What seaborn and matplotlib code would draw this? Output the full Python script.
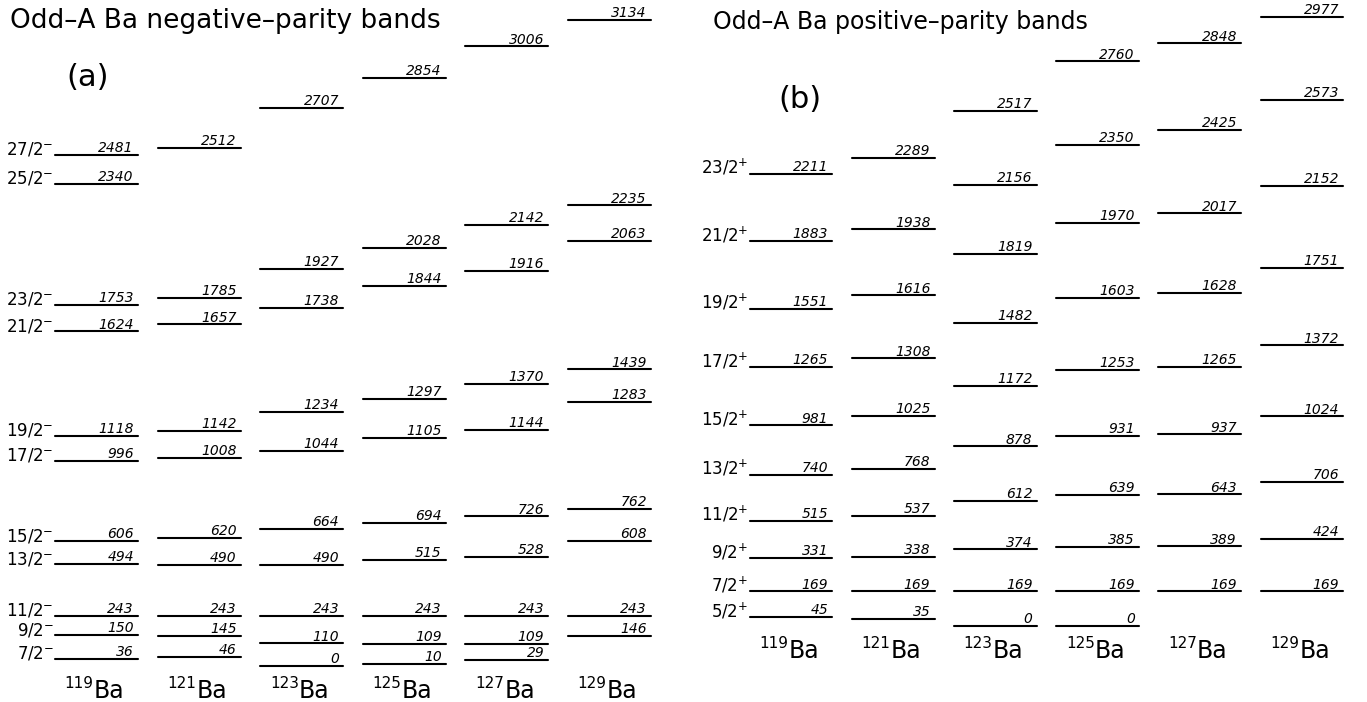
import matplotlib
matplotlib.use("Agg")
import matplotlib.pyplot as plt
import seaborn as sns
import pandas as pd

sns.set_theme(style="white")
plt.rcParams["font.family"] = ["DejaVu Sans"]
plt.rcParams["mathtext.fontset"] = "dejavusans"
plt.rcParams["text.color"] = "black"

# Mass numbers of the odd-A barium isotopes (one column each)
isotopes = ["119", "121", "123", "125", "127", "129"]

# Negative-parity band: level energies (keV) per isotope
neg_levels = {
    "119": [36, 150, 243, 494, 606, 996, 1118, 1624, 1753, 2340, 2481],
    "121": [46, 145, 243, 490, 620, 1008, 1142, 1657, 1785, 2512],
    "123": [0, 110, 243, 490, 664, 1044, 1234, 1738, 1927, 2707],
    "125": [10, 109, 243, 515, 694, 1105, 1297, 1844, 2028, 2854],
    "127": [29, 109, 243, 528, 726, 1144, 1370, 1916, 2142, 3006],
    "129": [146, 243, 608, 762, 1283, 1439, 2063, 2235, 3134],
}
neg_spins = ["7/2", "9/2", "11/2", "13/2", "15/2", "17/2", "19/2",
             "21/2", "23/2", "25/2", "27/2"]

# Positive-parity band: level energies (keV) per isotope
pos_levels = {
    "119": [45, 169, 331, 515, 740, 981, 1265, 1551, 1883, 2211],
    "121": [35, 169, 338, 537, 768, 1025, 1308, 1616, 1938, 2289],
    "123": [0, 169, 374, 612, 878, 1172, 1482, 1819, 2156, 2517],
    "125": [0, 169, 385, 639, 931, 1253, 1603, 1970, 2350, 2760],
    "127": [169, 389, 643, 937, 1265, 1628, 2017, 2425, 2848],
    "129": [169, 424, 706, 1024, 1372, 1751, 2152, 2573, 2977],
}
pos_spins = ["5/2", "7/2", "9/2", "11/2", "13/2", "15/2", "17/2",
             "19/2", "21/2", "23/2"]

HALF = 0.405  # half length of a level bar, in column units


def level_frame(levels):
    rows = []
    for col, iso in enumerate(isotopes):
        for k, e in enumerate(levels[iso]):
            for side in (-1, 1):
                rows.append({"iso": iso, "col": col, "x": col + side * HALF,
                             "E": e, "lid": f"{iso}_{k}"})
    return pd.DataFrame(rows)


def draw_scheme(ax, levels, spins, sign, xlim, ylim):
    df = level_frame(levels)
    sns.lineplot(data=df, x="x", y="E", units="lid", estimator=None,
                 sort=False, color="black", lw=1.5, ax=ax, legend=False)
    for col, iso in enumerate(isotopes):
        for e in levels[iso]:
            ax.annotate(f"{e}", xy=(col + HALF, e), xytext=(-3, 2),
                        textcoords="offset points", ha="right",
                        va="baseline", fontsize=10, style="italic")
        # isotope name: mass number as a small superscript before "Ba"
        ax.annotate(iso, xy=(col, 0), xytext=(-2, -16),
                    textcoords="offset points", ha="right",
                    va="baseline", fontsize=11)
        ax.annotate("Ba", xy=(col, 0), xytext=(-2, -23),
                    textcoords="offset points", ha="left",
                    va="baseline", fontsize=17)
    first = levels[isotopes[0]]
    for spin, e in zip(spins, first):
        ax.annotate(f"{spin}$^{{{sign}}}$", xy=(-HALF, e), xytext=(-1, 0),
                    textcoords="offset points", ha="right", va="baseline",
                    fontsize=12)
    ax.set_xlim(*xlim)
    ax.set_ylim(*ylim)
    ax.axis("off")


fig = plt.figure(figsize=(13.67, 7.02), dpi=100)
ax_neg = fig.add_axes([0.0, 0.0, 0.5, 1.0])
ax_pos = fig.add_axes([0.5, 0.0, 0.5, 1.0])

draw_scheme(ax_neg, neg_levels, neg_spins, "-",
            xlim=(-0.9405, 5.721), ylim=(-174.7, 3231.4))
draw_scheme(ax_pos, pos_levels, pos_spins, "+",
            xlim=(-1.052, 5.636), ylim=(-371.5, 3059.6))

W, H = 1367, 702
fig.text(10 / W, 1 - 28 / H, "Odd–A Ba negative–parity bands",
         fontsize=19, ha="left", va="baseline")
fig.text(713 / W, 1 - 29 / H, "Odd–A Ba positive–parity bands",
         fontsize=17, ha="left", va="baseline")
fig.text(88 / W, 1 - 78 / H, "(a)", fontsize=22, ha="center", va="center")
fig.text(800 / W, 1 - 100 / H, "(b)", fontsize=22, ha="center", va="center")

fig.savefig("out.png", dpi=100, facecolor="white")
